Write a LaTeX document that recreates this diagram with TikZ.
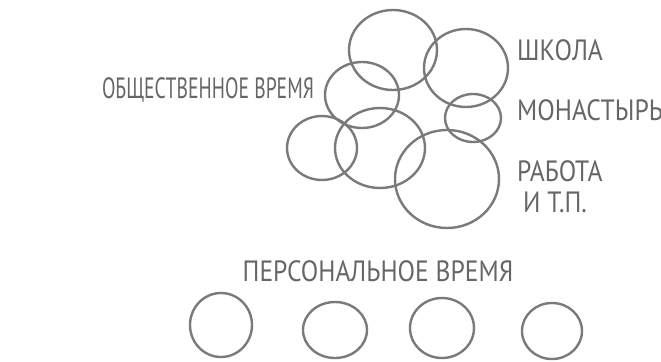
\documentclass[tikz,border=0pt]{standalone}
\usepackage{fontspec}
\setmainfont{PT Sans}
\definecolor{pencil}{HTML}{7A7A7A}
\definecolor{inkgray}{HTML}{666666}
\tikzset{
  ring/.style={draw=pencil,line width=1.8pt},
  hand/.style={text=inkgray,inner sep=0pt,xscale=.67,font=\fontsize{22}{24}\selectfont},
  wide/.style={hand,xscale=1.3}
}

\begin{document}
\begin{tikzpicture}[x=.75pt,y=-.75pt]
\path[use as bounding box] (0,0) rectangle (661,361);
% group of overlapping rings
\foreach \cx/\cy/\rx/\ry in {393/50/44/40,466/68/42/39,362/95/37/33,322/148/35/32,380/148/45/40,473/118/28/24,447/179/52/49}
  \draw[ring] (\cx,\cy) ellipse ({\rx*.75pt} and {\ry*.75pt});
% separate rings
\foreach \cx/\cy/\rx/\ry in {221/325/31/32,335/330/32/28,442/328/32/30,552/331/30/28}
  \draw[ring] (\cx,\cy) ellipse ({\rx*.75pt} and {\ry*.75pt});
\node[hand] (social) at (208,90) {ОБЩЕСТВЕННОЕ ВРЕМЯ};
\node[wide,anchor=west] (school) at (517,50) {ШКОЛА};
\node[wide,anchor=west] (monastery) at (517,110) {МОНАСТЫРЬ};
\node[wide,anchor=west] (work) at (517,171) {РАБОТА};
\node[wide,anchor=west] (etc) at (523,202) {И Т.П.};
\node[wide] (personal) at (378,271) {ПЕРСОНАЛЬНОЕ ВРЕМЯ};
\end{tikzpicture}
\end{document}
